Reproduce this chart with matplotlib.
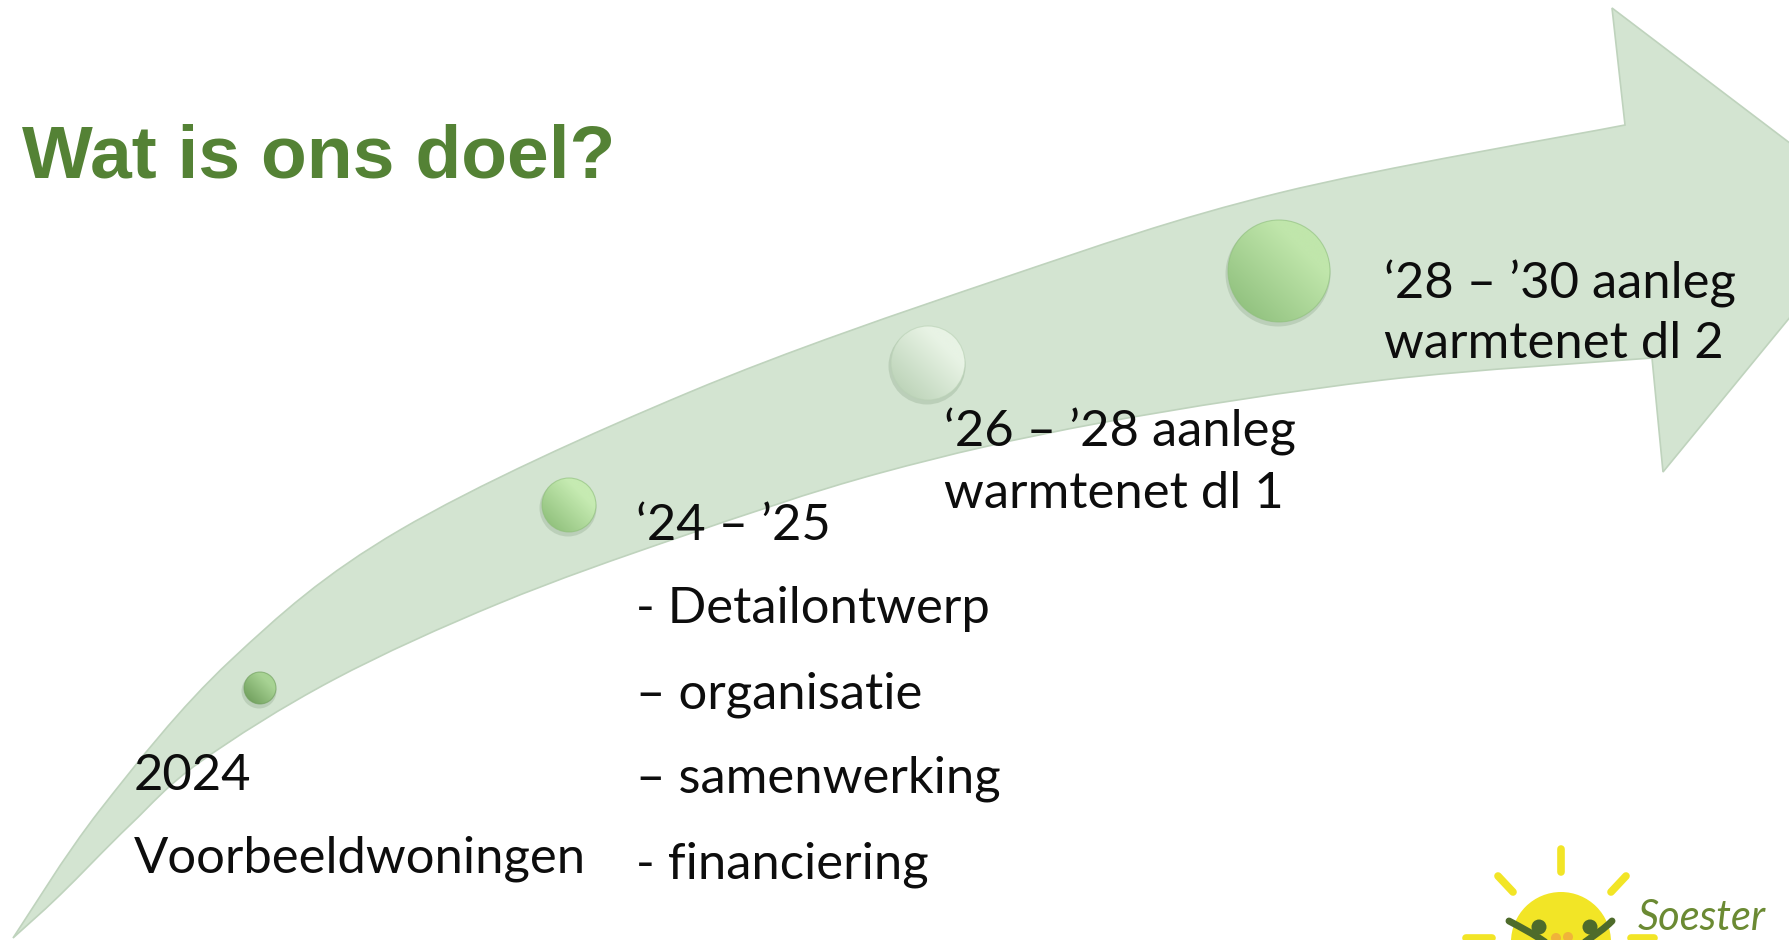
import numpy as np
import matplotlib
matplotlib.use("Agg")
import matplotlib.pyplot as plt
from matplotlib.path import Path
from matplotlib.patches import PathPatch, Circle
from matplotlib.colors import to_rgb

# Teksten van de tijdlijn
titel = "Wat is ons doel?"
fase_2024 = ["2024", "Voorbeeldwoningen"]
fase_2425 = ["\u201824 \u2013 \u201925", "- Detailontwerp", "\u2013 organisatie",
             "\u2013 samenwerking", "- financiering"]
fase_2628 = ["\u201826 \u2013 \u201928 aanleg", "warmtenet dl 1"]
fase_2830 = ["\u201828 \u2013 \u201930 aanleg", "warmtenet dl 2"]
logo_tekst = "Soester"

# Vorm van de pijl (pixels, y naar beneden)
rand_boven = [(13, 938), (100, 810), (230, 661), (400, 530), (690, 392),
              (1000, 279), (1279, 193), (1625, 125)]
pijl_kop = [(1612, 8), (1878, 210), (1663, 472), (1652, 358)]
rand_onder = [(1652, 358), (1383, 380), (1100, 423), (880, 473), (680, 537),
              (500, 603), (333, 680), (200, 762), (130, 825), (60, 895), (13, 938)]

# Bollen: centrum, straal, donker, licht
bollen = [((260, 688), 16, "#6e9d5b", "#a8d394"),
          ((569, 505), 27, "#8dbe79", "#c6ebb2"),
          ((928, 363), 37, "#b9d1b5", "#e8f3e5"),
          ((1279, 271), 51, "#8ebf7c", "#c0e6ab")]

GROEN = "#548235"
PIJL = "#d3e4d1"


def catmull(punten):
    """Gladde lijn door de punten, als Bezier-stukken"""
    p = np.array(punten, dtype=float)
    p = np.vstack([p[0], p, p[-1]])
    verts, codes = [], []
    for i in range(1, len(p) - 2):
        c1 = p[i] + (p[i + 1] - p[i - 1]) / 6
        c2 = p[i + 1] - (p[i + 2] - p[i]) / 6
        verts += [tuple(c1), tuple(c2), tuple(p[i + 1])]
        codes += [Path.CURVE4] * 3
    return verts, codes


def bol(ax, cx, cy, r, donker, licht):
    n = 160
    yy, xx = np.mgrid[-1:1:n * 1j, -1:1:n * 1j]
    # licht rechtsboven, donker linksonder
    t = np.clip((-(xx - 0.45) + (yy + 0.45)) / 2.6, 0, 1)
    d = np.array(to_rgb(donker))
    l = np.array(to_rgb(licht))
    img = l[None, None, :] * (1 - t[..., None]) + d[None, None, :] * t[..., None]
    # schaduw onder de bol
    ax.add_patch(Circle((cx - 1, cy + 3), r + 1.5, color="#a9bfa6", alpha=0.55, zorder=3, lw=0))
    im = ax.imshow(img, extent=(cx - r, cx + r, cy + r, cy - r), zorder=4,
                   interpolation="bilinear", aspect="auto")
    im.set_clip_path(Circle((cx, cy), r, transform=ax.transData))
    ax.add_patch(Circle((cx, cy), r, fill=False, ec=donker, lw=0.8, alpha=0.6, zorder=5))


fig = plt.figure(figsize=(17.9, 9.4), dpi=100)
ax = fig.add_axes([0, 0, 1, 1])
ax.axis("off")

# Pijl
v1, c1 = catmull(rand_boven)
v2, c2 = catmull(rand_onder)
verts = [rand_boven[0]] + v1 + pijl_kop + v2 + [rand_boven[0]]
codes = ([Path.MOVETO] + c1 + [Path.LINETO] * len(pijl_kop) + c2 + [Path.CLOSEPOLY])
ax.add_patch(PathPatch(Path(verts, codes), fc=PIJL, ec="#bfd3bd", lw=1.2, zorder=1))

for (c, r, dk, lc) in bollen:
    bol(ax, c[0], c[1], r, dk, lc)

# Titel
ax.text(22, 178, titel, fontsize=54, fontweight="bold", color=GROEN,
        family="Liberation Sans", va="baseline", zorder=6)

tekst = dict(fontsize=36.5, color="#0d0d0d", family="Lato", va="baseline", zorder=6)
for s, y in zip(fase_2024, [790, 873]):
    ax.text(134, y, s, **tekst)
for s, y in zip(fase_2425, [540, 623, 708, 793, 878]):
    ax.text(636, y, s, **tekst)
for s, y in zip(fase_2628, [447, 508]):
    ax.text(944, y, s, **tekst)
for s, y in zip(fase_2830, [298, 358]):
    ax.text(1384, y, s, **tekst)

# Logo rechtsonder
ZON = "#f2e526"
ax.add_patch(Circle((1561, 942), 50, color=ZON, zorder=6, lw=0))
stralen = [((1561, 849), (1561, 872)), ((1498, 876), (1513, 892)),
           ((1626, 876), (1611, 892)), ((1466, 938), (1492, 938)),
           ((1631, 938), (1654, 938))]
for a, b in stralen:
    ax.plot([a[0], b[0]], [a[1], b[1]], color=ZON, lw=5.5, solid_capstyle="round", zorder=6)
DONKER = "#4e6b2b"
ax.add_patch(Circle((1539, 927), 7.5, color=DONKER, zorder=7, lw=0))
ax.add_patch(Circle((1590, 927), 7.5, color=DONKER, zorder=7, lw=0))
arm_l = Path([(1509, 921), (1522, 928), (1532, 933), (1545, 942)],
             [Path.MOVETO, Path.CURVE4, Path.CURVE4, Path.CURVE4])
arm_r = Path([(1612, 921), (1604, 929), (1596, 934), (1585, 942)],
             [Path.MOVETO, Path.CURVE4, Path.CURVE4, Path.CURVE4])
for p in (arm_l, arm_r):
    ax.add_patch(PathPatch(p, fill=False, ec=DONKER, lw=5, capstyle="round", zorder=7))
ax.add_patch(Circle((1556, 938), 5, color="#f0b43a", zorder=8, lw=0))
ax.add_patch(Circle((1568, 937), 5, color="#f0b43a", zorder=8, lw=0))
ax.text(1638, 930, logo_tekst, fontsize=30, style="italic", color="#6b8a33",
        family="Lato", va="baseline", zorder=7)

ax.set_xlim(0, 1790)
ax.set_ylim(940, 0)
fig.savefig("out.png", dpi=100, facecolor="white")
